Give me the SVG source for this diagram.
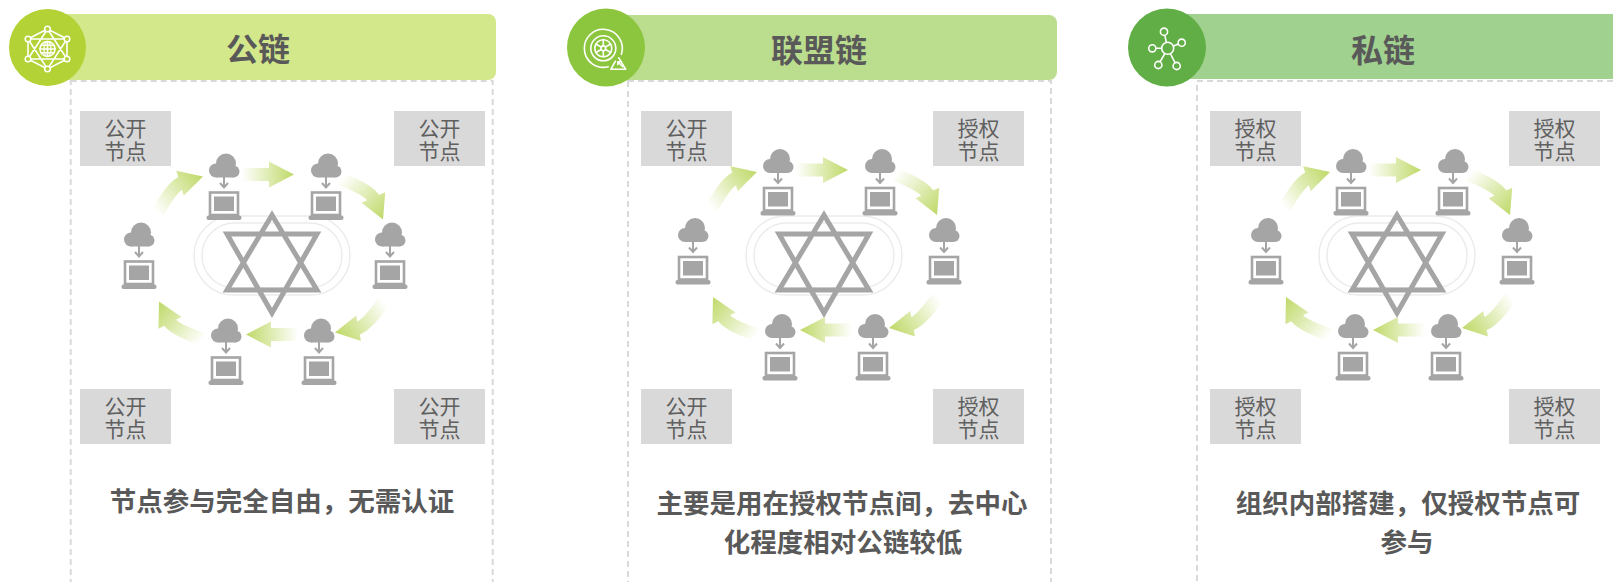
<svg xmlns="http://www.w3.org/2000/svg" width="1613" height="582" viewBox="0 0 1613 582">
<style>
  .frame{fill:none;stroke:#d9d9d9;stroke-width:2;stroke-dasharray:6 4}
  .title{font-family:"Noto Sans CJK SC","Noto Sans",sans-serif;font-weight:700;font-size:32px;fill:#595959;text-anchor:middle}
  .desc{font-family:"Noto Sans CJK SC","Noto Sans",sans-serif;font-weight:700;font-size:26.5px;fill:#595959;text-anchor:middle}
  .tag rect{fill:#d9d9d9}
  .tag text{font-family:"Liberation Sans","Noto Sans CJK SC",sans-serif;font-size:21px;fill:#606060;text-anchor:middle}
  .gray{fill:#a5a5a5}
  .ico{fill:none;stroke:#fff;stroke-width:1.6;stroke-linecap:round;stroke-linejoin:round}
  .track{fill:none;stroke:#ebebeb;stroke-width:1.4}
  .star{fill:none;stroke:#a5a5a5;stroke-width:5;stroke-linejoin:miter}
</style>
<defs>
  <linearGradient id="flowCurve" gradientUnits="userSpaceOnUse" x1="0" y1="0" x2="58" y2="0">
    <stop offset="0" stop-color="#ffffff"/>
    <stop offset="1" stop-color="#bfd968"/>
  </linearGradient>
  <linearGradient id="flowStraight" gradientUnits="userSpaceOnUse" x1="0" y1="0" x2="52" y2="0">
    <stop offset="0" stop-color="#ffffff"/>
    <stop offset="1" stop-color="#bfd968"/>
  </linearGradient>

  <!-- cloud feeding a laptop, origin at the cloud centre -->
  <g id="netnode">
    <g class="gray">
      <circle cx="2" cy="-3" r="10"/>
      <circle cx="-8" cy="4" r="7"/>
      <circle cx="9.5" cy="5" r="6"/>
      <rect x="-8" y="2" width="17.5" height="9"/>
      <rect x="-10" y="30" width="20" height="14.5"/>
      <rect x="-17.5" y="49" width="35" height="4.5" rx="2"/>
    </g>
    <path d="M0,10 V21 M-4,16.5 L0,21 L4,16.5" fill="none" stroke="#a5a5a5" stroke-width="2"/>
    <rect x="-14" y="26" width="28" height="22.5" fill="none" stroke="#a5a5a5" stroke-width="2.6"/>
  </g>

  <!-- straight flow arrow, tail at 0, tip at 52 -->
  <path id="flatArrow" d="M0,-6.5 H27 V-13 L52,0 L27,13 V6.5 H0 Z" fill="url(#flowStraight)"/>

  <!-- bent flow arrow, tail at 0, tip at 58, bulging towards -y -->
  <g id="bentArrow">
    <path d="M0,0 Q29,-11.73 37.6,-8.25" fill="none" stroke="url(#flowCurve)" stroke-width="13"/>
    <path d="M30.9,3.05 L58,0 L40.6,-21.05 Z" fill="url(#flowCurve)"/>
  </g>

  <!-- oval track with six-pointed star, origin at the star centre -->
  <g id="hub">
    <rect class="track" x="-78" y="-48" width="156" height="79" rx="39.5"/>
    <rect class="track" x="-70" y="-41" width="140" height="65" rx="32.5"/>
    <path class="star" d="M0,-49 L-45,26 L45,26 Z M0,49 L-45,-30 L45,-30 Z"/>
  </g>
</defs>

<!-- ===== panel frames ===== -->
<g id="frames">
  <rect class="frame" x="70.7" y="81" width="422" height="560"/>
  <rect class="frame" x="628" y="81" width="423" height="560"/>
  <rect class="frame" x="1197" y="81" width="440" height="560"/>
</g>

<!-- ===== headers ===== -->
<g id="header-public">
  <rect x="47" y="14" width="449" height="66" rx="8" fill="#d3e78b"/>
  <circle cx="47.5" cy="47.5" r="38.5" fill="#b3d235"/>
  <g transform="translate(47.5,49)">
    <path class="ico" d="M0,-20 L19.5,-10 L19.5,10 L0,20 L-19.5,10 L-19.5,-10 Z M0,-20 L19.5,10 L-19.5,10 Z M0,20 L19.5,-10 L-19.5,-10 Z"/>
    <circle cx="0" cy="0" r="7.5" fill="#b3d235" stroke="#fff" stroke-width="1.6"/>
    <path class="ico" d="M-7.5,0 H7.5 M-6.5,-3.7 H6.5 M-6.5,3.7 H6.5 M0,-7.5 V7.5" stroke-width="1.2"/>
    <ellipse cx="0" cy="0" rx="3.5" ry="7.5" fill="none" stroke="#fff" stroke-width="1.2"/>
    <g fill="#b3d235" stroke="#fff" stroke-width="1.5">
      <circle cx="0" cy="-20" r="2.8"/><circle cx="19.5" cy="-10" r="2.8"/><circle cx="19.5" cy="10" r="2.8"/>
      <circle cx="0" cy="20" r="2.8"/><circle cx="-19.5" cy="10" r="2.8"/><circle cx="-19.5" cy="-10" r="2.8"/>
    </g>
  </g>
  <text class="title" x="258" y="61">公链</text>
</g>

<g id="header-consortium">
  <rect x="606" y="15" width="451" height="65" rx="8" fill="#bbdd8e"/>
  <circle cx="606" cy="47.5" r="39" fill="#8cc63f"/>
  <g transform="translate(603.3,48.3)">
    <path class="ico" d="M4.9,18.4 A19,19 0 1 1 18.1,5.9"/>
    <circle class="ico" cx="0" cy="0" r="12.5"/>
    <circle class="ico" cx="0" cy="0" r="8.5"/>
    <circle class="ico" cx="0" cy="0" r="2.4"/>
    <path class="ico" d="M0,-2.4 V-8.5 M0,2.4 V8.5 M2.1,-1.2 L7.4,-4.25 M-2.1,1.2 L-7.4,4.25 M2.1,1.2 L7.4,4.25 M-2.1,-1.2 L-7.4,-4.25" stroke-width="1.3"/>
    <path class="ico" d="M12,13 L7.5,21 H22.5 L15.5,9.5"/>
    <path class="ico" d="M19.5,18.5 L14.5,13.5 M14.5,13.5 H17.5 M14.5,13.5 V16.5" stroke-width="1.3"/>
  </g>
  <text class="title" x="819" y="62">联盟链</text>
</g>

<g id="header-private">
  <rect x="1167" y="14" width="470" height="65" rx="8" fill="#a1d18f"/>
  <circle cx="1167" cy="47.5" r="39" fill="#62ae46"/>
  <g transform="translate(1167.7,48.3)">
    <path class="ico" d="M0,0 L-3.7,-16.6 M0,0 L14,-5.6 M0,0 L-15.4,0 M0,0 L-9.4,16.7 M0,0 L9,17.7"/>
    <g fill="#62ae46" stroke="#fff" stroke-width="1.6">
      <circle cx="0" cy="0" r="6"/>
      <circle cx="-3.7" cy="-16.6" r="3.6"/>
      <circle cx="14" cy="-5.6" r="3.6"/>
      <circle cx="-15.4" cy="0" r="3.6"/>
      <circle cx="-9.4" cy="16.7" r="3.6"/>
      <circle cx="9" cy="17.7" r="3.6"/>
    </g>
  </g>
  <text class="title" x="1383" y="62">私链</text>
</g>

<!-- ===== central hubs ===== -->
<g id="hubs">
  <use href="#hub" transform="translate(272,264)"/>
  <use href="#hub" transform="translate(824,264)"/>
  <use href="#hub" transform="translate(1397,264)"/>
</g>

<!-- ===== flow arrows between nodes ===== -->
<g id="connectors">
  <g transform="translate(270,268.5)">
    <use href="#flatArrow" transform="translate(-28,-94)"/>
    <use href="#bentArrow" transform="translate(113,-49) rotate(44.3) translate(-58,0)"/>
    <use href="#bentArrow" transform="translate(65,64) rotate(147.6) translate(-58,0)"/>
    <use href="#flatArrow" transform="translate(-24,66) rotate(180) translate(-52,0)"/>
    <use href="#bentArrow" transform="translate(-111,33) rotate(-139.2) translate(-58,0)"/>
    <use href="#bentArrow" transform="translate(-67,-92) rotate(-38.5) translate(-58,0)"/>
  </g>
  <g transform="translate(824,264)">
    <use href="#flatArrow" transform="translate(-28,-94)"/>
    <use href="#bentArrow" transform="translate(113,-49) rotate(44.3) translate(-58,0)"/>
    <use href="#bentArrow" transform="translate(65,64) rotate(147.6) translate(-58,0)"/>
    <use href="#flatArrow" transform="translate(-24,66) rotate(180) translate(-52,0)"/>
    <use href="#bentArrow" transform="translate(-111,33) rotate(-139.2) translate(-58,0)"/>
    <use href="#bentArrow" transform="translate(-67,-92) rotate(-38.5) translate(-58,0)"/>
  </g>
  <g transform="translate(1397,264)">
    <use href="#flatArrow" transform="translate(-28,-94)"/>
    <use href="#bentArrow" transform="translate(113,-49) rotate(44.3) translate(-58,0)"/>
    <use href="#bentArrow" transform="translate(65,64) rotate(147.6) translate(-58,0)"/>
    <use href="#flatArrow" transform="translate(-24,66) rotate(180) translate(-52,0)"/>
    <use href="#bentArrow" transform="translate(-111,33) rotate(-139.2) translate(-58,0)"/>
    <use href="#bentArrow" transform="translate(-67,-92) rotate(-38.5) translate(-58,0)"/>
  </g>
</g>

<!-- ===== network nodes ===== -->
<g transform="translate(270,268.5)">
  <g id="p1-node-tl"><use href="#netnode" x="-46" y="-102"/></g>
  <g id="p1-node-tr"><use href="#netnode" x="56" y="-102"/></g>
  <g id="p1-node-r"><use href="#netnode" x="120" y="-33"/></g>
  <g id="p1-node-br"><use href="#netnode" x="49" y="63"/></g>
  <g id="p1-node-bl"><use href="#netnode" x="-44" y="63"/></g>
  <g id="p1-node-l"><use href="#netnode" x="-131" y="-33"/></g>
</g>
<g transform="translate(824,264)">
  <g id="p2-node-tl"><use href="#netnode" x="-46" y="-102"/></g>
  <g id="p2-node-tr"><use href="#netnode" x="56" y="-102"/></g>
  <g id="p2-node-r"><use href="#netnode" x="120" y="-33"/></g>
  <g id="p2-node-br"><use href="#netnode" x="49" y="63"/></g>
  <g id="p2-node-bl"><use href="#netnode" x="-44" y="63"/></g>
  <g id="p2-node-l"><use href="#netnode" x="-131" y="-33"/></g>
</g>
<g transform="translate(1397,264)">
  <g id="p3-node-tl"><use href="#netnode" x="-46" y="-102"/></g>
  <g id="p3-node-tr"><use href="#netnode" x="56" y="-102"/></g>
  <g id="p3-node-r"><use href="#netnode" x="120" y="-33"/></g>
  <g id="p3-node-br"><use href="#netnode" x="49" y="63"/></g>
  <g id="p3-node-bl"><use href="#netnode" x="-44" y="63"/></g>
  <g id="p3-node-l"><use href="#netnode" x="-131" y="-33"/></g>
</g>

<!-- ===== corner tags ===== -->
<g id="p1-tag-tl" class="tag"><rect x="80" y="111" width="91" height="55"/><text><tspan x="125.5" y="135.5">公开</tspan><tspan x="125.5" dy="23.5">节点</tspan></text></g>
<g id="p1-tag-tr" class="tag"><rect x="394" y="111" width="91" height="55"/><text><tspan x="439.5" y="135.5">公开</tspan><tspan x="439.5" dy="23.5">节点</tspan></text></g>
<g id="p1-tag-bl" class="tag"><rect x="80" y="389" width="91" height="55"/><text><tspan x="125.5" y="413.5">公开</tspan><tspan x="125.5" dy="23.5">节点</tspan></text></g>
<g id="p1-tag-br" class="tag"><rect x="394" y="389" width="91" height="55"/><text><tspan x="439.5" y="413.5">公开</tspan><tspan x="439.5" dy="23.5">节点</tspan></text></g>

<g id="p2-tag-tl" class="tag"><rect x="641" y="111" width="91" height="55"/><text><tspan x="686.5" y="135.5">公开</tspan><tspan x="686.5" dy="23.5">节点</tspan></text></g>
<g id="p2-tag-tr" class="tag"><rect x="933" y="111" width="91" height="55"/><text><tspan x="978.5" y="135.5">授权</tspan><tspan x="978.5" dy="23.5">节点</tspan></text></g>
<g id="p2-tag-bl" class="tag"><rect x="641" y="389" width="91" height="55"/><text><tspan x="686.5" y="413.5">公开</tspan><tspan x="686.5" dy="23.5">节点</tspan></text></g>
<g id="p2-tag-br" class="tag"><rect x="933" y="389" width="91" height="55"/><text><tspan x="978.5" y="413.5">授权</tspan><tspan x="978.5" dy="23.5">节点</tspan></text></g>

<g id="p3-tag-tl" class="tag"><rect x="1210" y="111" width="91" height="55"/><text><tspan x="1255.5" y="135.5">授权</tspan><tspan x="1255.5" dy="23.5">节点</tspan></text></g>
<g id="p3-tag-tr" class="tag"><rect x="1509" y="111" width="91" height="55"/><text><tspan x="1554.5" y="135.5">授权</tspan><tspan x="1554.5" dy="23.5">节点</tspan></text></g>
<g id="p3-tag-bl" class="tag"><rect x="1210" y="389" width="91" height="55"/><text><tspan x="1255.5" y="413.5">授权</tspan><tspan x="1255.5" dy="23.5">节点</tspan></text></g>
<g id="p3-tag-br" class="tag"><rect x="1509" y="389" width="91" height="55"/><text><tspan x="1554.5" y="413.5">授权</tspan><tspan x="1554.5" dy="23.5">节点</tspan></text></g>

<!-- ===== descriptions ===== -->
<g id="desc-public"><text class="desc" x="282" y="511">节点参与完全自由，无需认证</text></g>
<g id="desc-consortium">
  <text class="desc"><tspan x="842" y="513">主要是用在授权节点间，去中心</tspan><tspan x="843" dy="39">化程度相对公链较低</tspan></text>
</g>
<g id="desc-private">
  <text class="desc"><tspan x="1408" y="513">组织内部搭建，仅授权节点可</tspan><tspan x="1407" dy="39">参与</tspan></text>
</g>
</svg>
